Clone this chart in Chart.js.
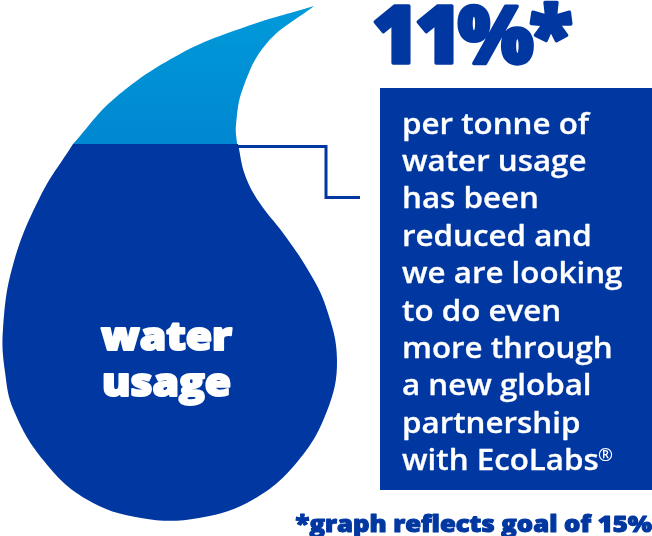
<!DOCTYPE html>
<html>
<head>
<meta charset="utf-8">
<style>
  html, body { margin: 0; padding: 0; background: #ffffff; }
  canvas { display: block; }
</style>
<script src="https://cdn.jsdelivr.net/npm/chart.js@4"></script>
</head>
<body>
<canvas id="drop" width="652" height="536"></canvas>
<script>
// Drop outline above the water level; repeated points keep the corners sharp
const upperX = [73, 73, 115, 180, 245, 314, 314, 267, 243, 236, 237, 237, 73, 73];
const upperY = [144, 144, 98, 54, 27, 6, 6, 43, 88, 125, 144, 144, 144, 144];

// Drop outline below the water level
const lowerX = [73, 73, 40, 13, 3, 5, 14, 44, 86, 141, 199, 254, 298, 327, 337, 326, 308, 283, 259, 245, 238, 238, 73, 73];
const lowerY = [144, 144, 197, 265, 329, 372, 411, 461, 499, 518, 518, 499, 461, 411, 360, 307, 270, 233, 202, 175, 144, 144, 144, 144];

// Elbow leading from the water level to the text panel
const leaderX = [238, 326, 326, 360];
const leaderY = [146.5, 146.5, 197.5, 197.5];

// Text panel corners
const panelX = [380, 652, 652, 380, 380];
const panelY = [88, 88, 490, 490, 88];

const headline = '11%*';
const dropLabel = ['water', 'usage'];
const panelLines = [
  'per tonne of', 'water usage', 'has been', 'reduced and', 'we are looking',
  'to do even', 'more through', 'a new global', 'partnership', 'with EcoLabs'
];
const trademark = '®';
const footnote = '*graph reflects goal of 15%';

const navy = '#0037a1';
const toPoints = (xs, ys) => xs.map((x, i) => ({ x, y: ys[i] }));

// Draws the headline, the drop label, the panel copy and the footnote
const captions = {
  id: 'captions',
  afterDatasetsDraw(chart) {
    const { ctx, scales: { x, y } } = chart;
    const put = (text, px, py, { font, colour, spread = 0, stretch = 1, align = 'left', spacing = '0px' }) => {
      ctx.save();
      ctx.translate(x.getPixelForValue(px), y.getPixelForValue(py));
      ctx.scale(stretch, 1);
      ctx.font = font;
      ctx.letterSpacing = spacing;
      ctx.textAlign = align;
      ctx.textBaseline = 'alphabetic';
      ctx.fillStyle = colour;
      if (spread) {
        ctx.strokeStyle = colour;
        ctx.lineWidth = spread;
        ctx.lineJoin = 'round';
        ctx.strokeText(text, 0, 0);
      }
      ctx.fillText(text, 0, 0);
      ctx.restore();
    };
    put(headline, 372, 63, { font: '800 80px "Open Sans"', colour: navy, spread: 3.5, spacing: '-4px' });
    dropLabel.forEach((word, i) => {
      put(word, 166.5, 350 + i * 46, { font: '800 38px "Open Sans"', colour: '#ffffff', spread: 2, stretch: 1.12, align: 'center' });
    });
    panelLines.forEach((line, i) => {
      put(line, 402, 133.5 + i * 37.4, { font: '600 29px "Open Sans"', colour: '#ffffff', stretch: 1.08, spread: 0.3 });
    });
    put(trademark, 598, 461, { font: '600 18px "Open Sans"', colour: '#ffffff' });
    put(footnote, 652, 532, { font: '800 22px "Open Sans"', colour: navy, spread: 1, stretch: 1.165, align: 'right' });
  }
};

new Chart(document.getElementById('drop'), {
  type: 'scatter',
  data: {
    datasets: [
      {
        label: 'panel',
        data: toPoints(panelX, panelY),
        showLine: true, fill: 'shape', tension: 0,
        backgroundColor: navy, borderWidth: 0, pointRadius: 0
      },
      {
        label: 'remaining',
        data: toPoints(upperX, upperY),
        showLine: true, fill: 'shape', tension: 0.4,
        backgroundColor(context) {
          const { ctx, chartArea } = context.chart;
          if (!chartArea) return '#008fd5';
          const g = ctx.createLinearGradient(0, 6, 0, 144);
          g.addColorStop(0, '#009ad9');
          g.addColorStop(1, '#0087d1');
          return g;
        },
        borderWidth: 0, pointRadius: 0
      },
      {
        label: 'water usage',
        data: toPoints(lowerX, lowerY),
        showLine: true, fill: 'shape', tension: 0.4,
        backgroundColor: navy, borderWidth: 0, pointRadius: 0
      },
      {
        label: 'leader',
        data: toPoints(leaderX, leaderY),
        showLine: true, fill: false, tension: 0,
        borderColor: navy, borderWidth: 3, pointRadius: 0
      }
    ]
  },
  options: {
    responsive: false,
    animation: false,
    layout: { padding: 0 },
    plugins: { legend: { display: false }, tooltip: { enabled: false } },
    scales: {
      x: { type: 'linear', min: 0, max: 652, display: false },
      y: { type: 'linear', min: 0, max: 536, reverse: true, display: false }
    }
  },
  plugins: [captions]
});
</script>
</body>
</html>
